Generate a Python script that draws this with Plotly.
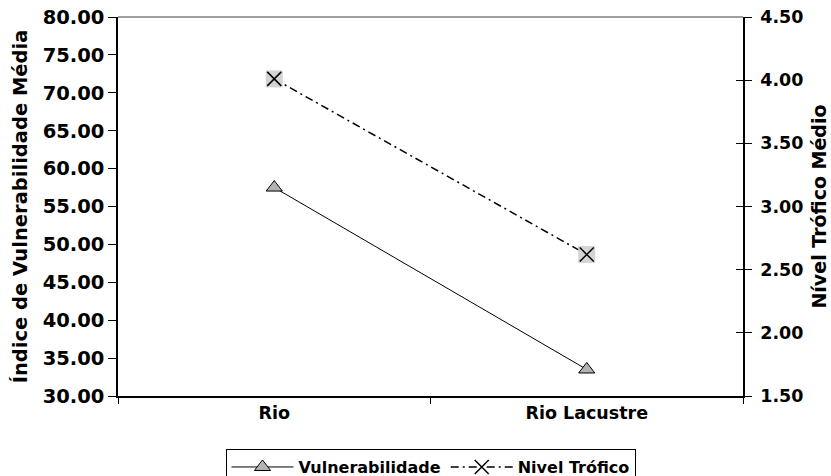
import plotly.graph_objects as go

# Habitat categories and the two mean indices per habitat
categorias = ["Rio", "Rio Lacustre"]
vulnerabilidade = [57.5, 33.5]      # left axis: Índice de Vulnerabilidade Média
nivel_trofico = [4.01, 2.62]        # right axis: Nível Trófico Médio

FONT = "DejaVu Sans"

fig = go.Figure()

# Vulnerability series: thin solid line with grey triangles
fig.add_trace(go.Scatter(
    x=categorias, y=vulnerabilidade, name="Vulnerabilidade",
    mode="lines+markers",
    line=dict(color="black", width=1),
    marker=dict(symbol="triangle-up", size=14, color="#b3b3b3",
                line=dict(color="black", width=1)),
    yaxis="y",
))

# Trophic level series: dash-dot line with a cross marker
fig.add_trace(go.Scatter(
    x=categorias, y=nivel_trofico, name="Nivel Trófico",
    mode="lines+markers",
    line=dict(color="black", width=1.5, dash="8px,4px,2px,4px"),
    marker=dict(symbol="x-thin-open", size=14, color="black",
                line=dict(color="black", width=1.5)),
    yaxis="y2",
))
# light grey square behind each cross
fig.add_trace(go.Scatter(
    x=categorias, y=nivel_trofico, mode="markers", showlegend=False,
    marker=dict(symbol="square", size=17, color="#d4d4d4", line=dict(width=0)),
    yaxis="y2", hoverinfo="skip",
))
fig.add_trace(go.Scatter(
    x=categorias, y=nivel_trofico, mode="markers", showlegend=False,
    marker=dict(symbol="x-thin-open", size=14, color="black",
                line=dict(color="black", width=1.5)),
    yaxis="y2", hoverinfo="skip",
))
# empty trace that carries the inner half of the right-hand tick marks
fig.add_trace(go.Scatter(x=[], y=[], yaxis="y3", showlegend=False))

fig.update_layout(
    width=831, height=476,
    margin=dict(l=118, r=88, t=17, b=80, autoexpand=False),
    paper_bgcolor="white", plot_bgcolor="white",
    font=dict(family=FONT, color="black", weight="bold"),
    xaxis=dict(
        type="category", range=[-0.5, 1.5],
        tickson="boundaries", ticks="outside", ticklen=6, tickcolor="black",
        showline=True, linecolor="black", linewidth=1.5,
        showgrid=False, zeroline=False,
        tickfont=dict(family=FONT, size=17.5, color="black", weight="bold"),
    ),
    yaxis=dict(
        range=[30, 80], dtick=5, tick0=30, tickformat=".2f",
        ticks="outside", ticklen=8, tickcolor="black",
        showline=True, linecolor="black", linewidth=1.5,
        showgrid=False, zeroline=False,
        tickfont=dict(family=FONT, size=19.5, color="black", weight="bold"),
        ticklabelstandoff=0,
        title=dict(text="Índice de Vulnerabilidade Média",
                   font=dict(family=FONT, size=19.5, color="black", weight="bold"),
                   standoff=10),
    ),
    yaxis2=dict(
        range=[1.5, 4.5], dtick=0.5, tick0=1.5, tickformat=".2f",
        overlaying="y", side="right", anchor="x",
        ticks="outside", ticklen=7, tickcolor="black",
        showline=True, linecolor="black", linewidth=1.5,
        showgrid=False, zeroline=False,
        tickfont=dict(family=FONT, size=17.5, color="black", weight="bold"),
        ticklabelstandoff=5,
        title=dict(text="Nível Trófico Médio",
                   font=dict(family=FONT, size=19, color="black", weight="bold"),
                   standoff=10),
    ),
    yaxis3=dict(
        range=[1.5, 4.5], dtick=0.5, tick0=1.5,
        overlaying="y", side="right", anchor="x",
        ticks="inside", ticklen=7, tickcolor="black",
        showticklabels=False, showline=False,
        showgrid=False, zeroline=False,
    ),
    legend=dict(
        orientation="h", x=0.5, xanchor="center", y=-0.14, yanchor="top",
        bgcolor="white", bordercolor="black", borderwidth=1,
        font=dict(family=FONT, size=16, color="black", weight="bold"),
        itemwidth=62,
    ),
    shapes=[dict(type="line", xref="paper", yref="paper",
                 x0=0, x1=1, y0=1, y1=1,
                 line=dict(color="#7f7f7f", width=1.5))],
    showlegend=True,
)

fig.write_html("out.html")
